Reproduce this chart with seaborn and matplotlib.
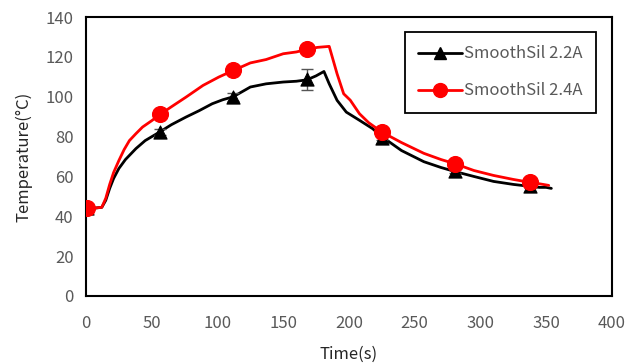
import numpy as np
import pandas as pd
import seaborn as sns
import matplotlib.pyplot as plt
from matplotlib.lines import Line2D

time_22 = [0, 5, 12, 15, 18, 21, 25, 30, 38, 45, 56, 65, 76, 86, 96, 104, 112, 125, 137, 150, 160,
           168, 175, 181, 185, 191, 198, 208, 218, 225, 240, 257, 270, 281, 295, 310, 325, 338,
           345, 350, 354]
temp_22 = [44, 44, 44.5, 48, 54, 59, 64, 68.5, 74, 78, 82.3, 86, 89.8, 93, 96.5, 98.5, 100, 104.9,
           106.5, 107.4, 107.8, 108.5, 110.5, 112.7, 106.5, 98.2, 92.3, 88.2, 84, 80, 73, 67.4,
           64.5, 62.4, 60, 57.5, 56, 55, 54.5, 54.5, 54]

time_24 = [0, 5, 12, 15, 18, 21, 25, 29, 33, 38, 43, 50, 56, 65, 76, 89, 101, 112, 125, 137, 150,
           160, 168, 176, 185, 191, 196, 201, 208, 215, 225, 240, 257, 270, 281, 295, 310, 325,
           338, 345, 352]
temp_24 = [44, 44, 44.5, 49, 56, 62, 68, 73.5, 78, 81.5, 84.8, 88, 91, 95, 99.8, 105.7, 109.9,
           113.2, 117, 118.7, 121.6, 122.5, 123.8, 124.8, 125.3, 111.5, 101.5, 98.3, 91.5, 87,
           82.3, 77, 71.6, 68.5, 66.3, 63, 60.5, 58.5, 57, 56.3, 55.5]

# marker points
marker_t = [1, 56, 112, 168, 225, 281, 338]
marker_22 = [44, 82.3, 100, 108.7, 79.5, 62.8, 55]
err_22 = [0.5, 1.5, 2.0, 5.4, 1.0, 1.0, 1.0]
marker_24 = [44, 91.2, 113.3, 123.8, 82.3, 66.3, 57]

labels = ['SmoothSil 2.2A', 'SmoothSil 2.4A']

sns.set_style('white')
plt.rcParams['font.family'] = ['Noto Sans CJK KR', 'DejaVu Sans']

fig = plt.figure(figsize=(6.42, 3.64), dpi=100)
ax = fig.add_axes([0.134, 0.187, 0.819, 0.766])

df22 = pd.DataFrame({'t': time_22, 'T': temp_22})
df24 = pd.DataFrame({'t': time_24, 'T': temp_24})
sns.lineplot(data=df22, x='t', y='T', color='black', lw=2, ax=ax, zorder=2)
sns.lineplot(data=df24, x='t', y='T', color='red', lw=2, ax=ax, zorder=3)

ax.errorbar(marker_t, marker_22, yerr=err_22, fmt='none', ecolor='#555555', elinewidth=1,
            capsize=4, zorder=4)
sns.scatterplot(x=marker_t, y=marker_22, marker='^', color='black', s=90, edgecolor='black',
                ax=ax, zorder=4)
sns.scatterplot(x=marker_t, y=marker_24, marker='o', color='red', s=130, edgecolor='red',
                ax=ax, zorder=5)

ax.set_xlim(0, 400)
ax.set_ylim(0, 140)
ax.set_xticks(range(0, 401, 50))
ax.set_yticks(range(0, 141, 20))
ax.tick_params(direction='in', length=4, width=1.2, colors='black', labelcolor='#595959',
               labelsize=12, pad=14)
ax.tick_params(axis='y', pad=9)
for s in ax.spines.values():
    s.set_color('black')
    s.set_linewidth(1.5)

ax.set_xlabel('Time(s)', fontsize=12, color='#262626', labelpad=10)
ax.set_ylabel('Temperature(°C)', fontsize=12, color='#262626', labelpad=9)

handles = [Line2D([], [], color='black', lw=2, marker='^', ms=9),
           Line2D([], [], color='red', lw=2, marker='o', ms=10)]
leg = ax.legend(handles, labels, loc='upper right', bbox_to_anchor=(0.97, 0.946),
                fancybox=False, framealpha=1, edgecolor='black', fontsize=12,
                handlelength=2.6, handletextpad=0.15, labelspacing=1.2, borderpad=0.8,
                borderaxespad=0)
leg.get_frame().set_linewidth(1.3)
for t in leg.get_texts():
    t.set_color('#595959')

fig.savefig('out.png', dpi=100)
